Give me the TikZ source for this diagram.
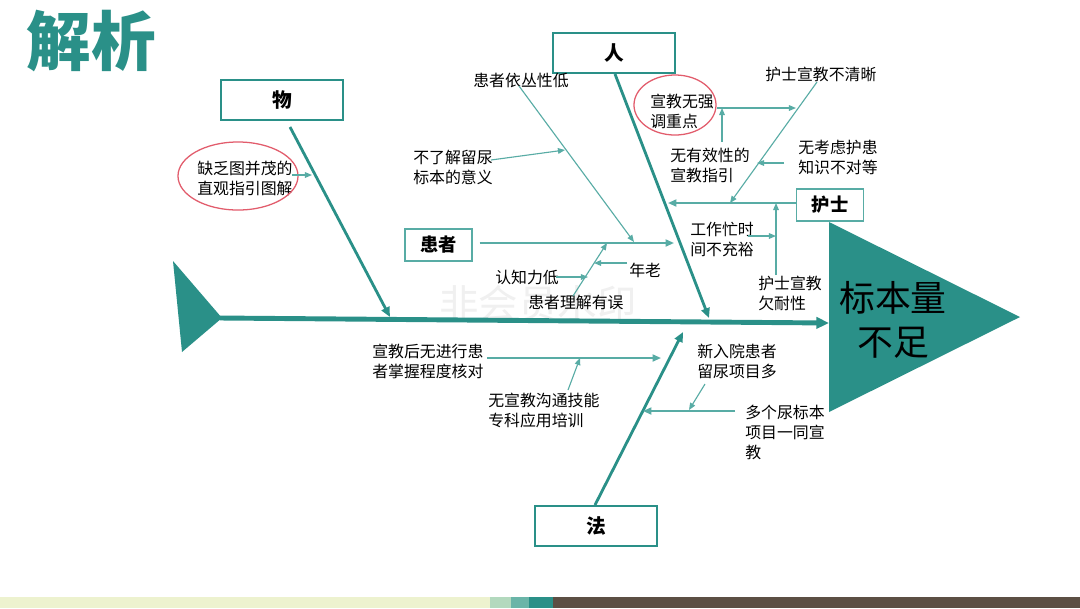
\documentclass[tikz,border=0pt]{standalone}
\usepackage{fontspec}
\setmainfont{Noto Sans CJK SC}
\usetikzlibrary{arrows.meta,shapes.geometric}
\definecolor{tealA}{RGB}{42,144,136}
\definecolor{tealB}{RGB}{88,172,165}
\definecolor{redE}{RGB}{226,92,108}
\definecolor{barY}{RGB}{237,242,207}
\definecolor{barG}{RGB}{179,217,190}
\definecolor{barM}{RGB}{106,181,168}
\definecolor{barB}{RGB}{92,79,68}
\tikzset{
  spine/.style={draw=tealA, line width=3.5pt, -{Triangle[length=9pt,width=8pt]}},
  bone/.style={draw=tealA, line width=2pt, -{Triangle[length=7pt,width=6pt]}},
  branch/.style={draw=tealB, line width=1.3pt, -{Triangle[length=6pt,width=5pt]}},
  twig/.style={draw=tealB, line width=0.8pt, -{Triangle[length=5pt,width=4pt]}},
  bigbox/.style={draw=tealA, line width=1.8pt, fill=white, minimum width=3.05cm, minimum height=1cm, font=\bfseries\fontsize{14}{16}\selectfont},
  smallbox/.style={draw=tealB, line width=1pt, fill=white, minimum width=1.675cm, minimum height=0.8cm, font=\bfseries\fontsize{13}{15}\selectfont},
  lbl/.style={font=\fontsize{11.3}{14.2}\selectfont, align=left, inner sep=0pt, anchor=west},
  ring/.style={draw=redE, line width=0.9pt, ellipse, inner sep=0pt}
}
\begin{document}
\begin{tikzpicture}[x=0.025cm,y=-0.025cm]
\useasboundingbox[fill=white] (0,0) rectangle (1080,608);
% bottom bar
\fill[barY] (0,597) rectangle (490,608);
\fill[barG] (490,597) rectangle (511,608);
\fill[barM] (511,597) rectangle (529,608);
\fill[tealA] (529,597) rectangle (553,608);
\fill[barB] (553,597) rectangle (1080,608);
% title
\node[font=\bfseries\fontsize{46}{50}\selectfont, text=tealA] (title) at (91,41) {解析};
% watermark
\node[font=\fontsize{28}{30}\selectfont, text=black!6] (wm) at (538,304) {非会员水印};
% tail and head
\fill[tealA] (173,261) -- (222,318) -- (182,352) -- cycle;
\fill[tealA] (829,222) -- (1020,317) -- (829,412) -- cycle;
\node[font=\fontsize{25.5}{31}\selectfont, align=center] (effect) at (893,320) {标本量\\不足};
% coordinates
\coordinate (tailtip) at (220,318);
\coordinate (spineend) at (829,323);
\draw[spine] (tailtip) -- (spineend);
% category boxes
\node[bigbox] (wu) at (282,100) {物};
\node[bigbox] (ren) at (614,53) {人};
\node[bigbox] (fa) at (596,526) {法};
\node[smallbox] (hz) at (438.5,245) {患者};
\node[smallbox] (hs) at (830,205) {护士};
% bones
\coordinate (wuS) at (290,127);
\coordinate (wuE) at (390,317);
\draw[bone] (wuS) -- (wuE);
\coordinate (renS) at (615,74);
\coordinate (renE) at (709,318);
\draw[bone] (renS) -- (renE);
\coordinate (faS) at (595,505);
\coordinate (faE) at (683,332);
\draw[bone] (faS) -- (faE);
\coordinate (hzE) at (674,243);
\draw[branch] (hz.east |- hzE) ++(7,0) coordinate (hzS) (hzS) -- (hzE);
\coordinate (hsE) at (668,203);
\draw[branch] (hs.west |- hsE) -- (hsE);
% 物 causes
\node[lbl] (t1) at (197,178) {缺乏图并茂的\\直观指引图解};
\node[ring, minimum width=3cm, minimum height=1.7cm] (e1) at (238,176) {};
\coordinate (t1a) at (292,175);
\coordinate (t1b) at (312,175);
\draw[twig] (t1a) -- (t1b);
% 人 / 患者 causes
\node[lbl, anchor=center] (t2) at (521,80) {患者依丛性低};
\coordinate (t2a) at (519,86);
\coordinate (t2b) at (634,242);
\draw[twig] (t2a) -- (t2b);
\node[lbl] (t3) at (413,167) {不了解留尿\\标本的意义};
\coordinate (t3a) at (491,160);
\coordinate (t3b) at (565,150);
\draw[twig] (t3a) -- (t3b);
\node[lbl] (t4) at (528,302) {患者理解有误};
\coordinate (t4a) at (573,296);
\coordinate (t4b) at (607,243);
\draw[twig] (t4a) -- (t4b);
\node[lbl] (t5) at (495,277) {认知力低};
\coordinate (t5a) at (556,277);
\coordinate (t5b) at (588,277);
\draw[twig] (t5a) -- (t5b);
\node[lbl] (t6) at (629,270) {年老};
\coordinate (t6a) at (627,263);
\coordinate (t6b) at (594,263);
\draw[twig] (t6a) -- (t6b);
% 护士 causes
\node[lbl] (t7) at (765,74) {护士宣教不清晰};
\coordinate (t7a) at (817,82);
\coordinate (t7b) at (730,203);
\draw[twig] (t7a) -- (t7b);
\node[lbl] (t8) at (798,157) {无考虑护患\\知识不对等};
\coordinate (t8a) at (784,163);
\coordinate (t8b) at (757,163);
\draw[twig] (t8a) -- (t8b);
\node[lbl] (t9) at (650,111) {宣教无强\\调重点};
\node[ring, minimum width=2.05cm, minimum height=1.5cm] (e2) at (675,105) {};
\coordinate (t9a) at (717,108);
\coordinate (t9b) at (796,108);
\draw[twig] (t9a) -- (t9b);
\node[lbl] (t10) at (670,165) {无有效性的\\宣教指引};
\coordinate (t10a) at (722,142);
\coordinate (t10b) at (722,108);
\draw[twig] (t10a) -- (t10b);
\node[lbl] (t11) at (690,239) {工作忙时\\间不充裕};
\coordinate (t11a) at (748,236);
\coordinate (t11b) at (776,236);
\draw[twig] (t11a) -- (t11b);
\node[lbl] (t12) at (758,293) {护士宣教\\欠耐性};
\coordinate (t12a) at (776,275);
\coordinate (t12b) at (776,203);
\draw[twig] (t12a) -- (t12b);
% 法 causes
\node[lbl] (t13) at (372,361) {宣教后无进行患\\者掌握程度核对};
\coordinate (t13a) at (487,358);
\coordinate (t13b) at (661,358);
\draw[branch] (t13a) -- (t13b);
\node[lbl] (t14) at (488,410) {无宣教沟通技能\\专科应用培训};
\coordinate (t14a) at (568,390);
\coordinate (t14b) at (580,358);
\draw[twig] (t14a) -- (t14b);
\node[lbl] (t15) at (697,361) {新入院患者\\留尿项目多};
\coordinate (t15a) at (705,384);
\coordinate (t15b) at (689,410);
\draw[twig] (t15a) -- (t15b);
\node[lbl] (t16) at (745,432) {多个尿标本\\项目一同宣\\教};
\coordinate (t16a) at (735,411);
\coordinate (t16b) at (643,411);
\draw[branch] (t16a) -- (t16b);
\end{tikzpicture}
\end{document}
